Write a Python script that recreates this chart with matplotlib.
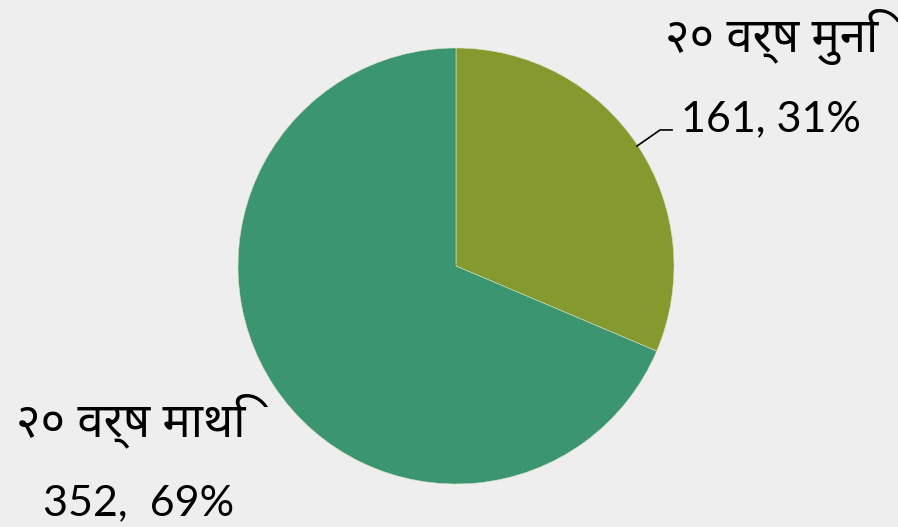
import matplotlib
matplotlib.use("Agg")
import matplotlib.pyplot as plt

# data
labels = ["२० वर्ष मुनि", "२० वर्ष माथि"]
values = [161, 352]
colors = ["#84992E", "#3C9571"]

total = sum(values)
pcts = [round(v * 100 / total) for v in values]

fig = plt.figure(figsize=(8.98, 5.27), dpi=100)
fig.patch.set_facecolor("#EEEEEE")

# square axes around the pie (center ~ 456,266 px, radius ~218 px)
ax = fig.add_axes([(456 - 218) / 898, (527 - 266 - 218) / 527, 436 / 898, 436 / 527])
ax.set_facecolor("none")
ax.pie(values, colors=colors, startangle=90, counterclock=False,
       wedgeprops=dict(edgecolor="#D8E0C0", linewidth=0.4))
ax.set_xlim(-1, 1)
ax.set_ylim(-1, 1)
ax.set_aspect("auto")
ax.axis("off")

deva = ["Noto Sans Devanagari", "Noto Sans", "DejaVu Sans"]
num = ["Lato", "DejaVu Sans"]

# top-right label with leader line
ax.text(1.45, 1.05, labels[0], family=deva, fontsize=34, ha="center", va="center")
ax.text(1.03, 0.672, f"{values[0]}, {pcts[0]}%", family=num, fontsize=31,
        ha="left", va="center")
ax.plot([0.830, 0.936, 0.991], [0.550, 0.624, 0.624], color="black", lw=1.2,
        clip_on=False)

# bottom-left label
ax.text(-1.49, -0.71, labels[1], family=deva, fontsize=34, ha="center", va="center")
ax.text(-1.454, -1.09, f"{values[1]},  {pcts[1]}%", family=num, fontsize=31,
        ha="center", va="center")

fig.savefig("out.png", facecolor=fig.get_facecolor())
